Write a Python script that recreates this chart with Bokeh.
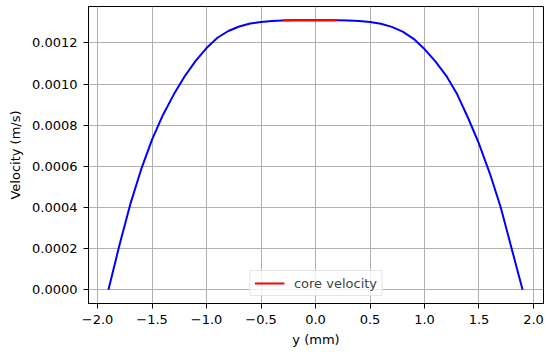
from bokeh.plotting import figure
from bokeh.models import FixedTicker, Range1d, Legend, LegendItem
from bokeh.embed import file_html
from bokeh.resources import INLINE

# Data
y_mm = [-1.9, -1.8, -1.7, -1.6, -1.5, -1.4, -1.3, -1.2, -1.1, -1.0,
        -0.9, -0.8, -0.7, -0.6, -0.5, -0.4, -0.3, -0.2, -0.1, 0.0,
        0.1, 0.2, 0.3, 0.4, 0.5, 0.6, 0.7, 0.8, 0.9, 1.0,
        1.1, 1.2, 1.3, 1.4, 1.5, 1.6, 1.7, 1.8, 1.9]
velocity = [0.0, 0.000215, 0.000415, 0.000585, 0.00073, 0.00085, 0.00095, 0.001038, 0.001113, 0.001175,
            0.001225, 0.001258, 0.00128, 0.001294, 0.001302, 0.001307, 0.001309, 0.00131, 0.00131, 0.00131,
            0.00131, 0.00131, 0.001309, 0.001307, 0.001302, 0.001293, 0.001278, 0.001255, 0.00122, 0.00117,
            0.00111, 0.00104, 0.00095, 0.000835, 0.00071, 0.000565, 0.0004, 0.0002, 0.0]

core_y = [-0.3, 0.2]
core_v = [0.00131, 0.00131]

x_ticks = [-2.0, -1.5, -1.0, -0.5, 0.0, 0.5, 1.0, 1.5, 2.0]
x_tick_labels = ["\u22122.0", "\u22121.5", "\u22121.0", "\u22120.5", "0.0", "0.5", "1.0", "1.5", "2.0"]
y_ticks = [0.0, 0.0002, 0.0004, 0.0006, 0.0008, 0.0010, 0.0012]
y_tick_labels = ["0.0000", "0.0002", "0.0004", "0.0006", "0.0008", "0.0010", "0.0012"]

FONT = "DejaVu Sans"
FS = "13px"

p = figure(width=550, height=352, output_backend="svg", toolbar_location=None,
           x_range=Range1d(-2.083, 2.092), y_range=Range1d(-0.0000666, 0.001377),
           min_border_left=88, min_border_right=7, min_border_top=6, min_border_bottom=49)

p.background_fill_color = "white"
p.border_fill_color = "white"
p.outline_line_color = "black"
p.outline_line_width = 1

p.line(y_mm, velocity, line_color="#0000ff", line_width=2)
red = p.line(core_y, core_v, line_color="#ff0000", line_width=2)

legend = Legend(items=[LegendItem(label="core velocity", renderers=[red])],
                location="bottom_center")
legend.margin = 7
legend.padding = 4
legend.glyph_width = 30
legend.glyph_height = 16
legend.label_standoff = 10
legend.label_text_font = FONT
legend.label_text_font_size = FS
legend.border_line_color = "#cccccc"
legend.background_fill_alpha = 0.8
p.add_layout(legend)

for ax in (p.xaxis, p.yaxis):
    ax.axis_line_color = "black"
    ax.major_tick_line_color = "black"
    ax.major_tick_in = 0
    ax.major_tick_out = 5
    ax.minor_tick_line_color = None
    ax.major_label_text_font = FONT
    ax.major_label_text_font_size = FS
    ax.major_label_text_color = "black"
    ax.axis_label_text_font = FONT
    ax.axis_label_text_font_size = FS
    ax.axis_label_text_font_style = "normal"
    ax.axis_label_text_color = "black"

p.xaxis.ticker = FixedTicker(ticks=x_ticks)
p.xaxis.major_label_overrides = dict(zip(x_ticks, x_tick_labels))
p.xaxis.axis_label = "y (mm)"
p.xaxis.major_label_standoff = 6
p.xaxis.axis_label_standoff = 5

p.yaxis.ticker = FixedTicker(ticks=y_ticks)
p.yaxis.major_label_overrides = dict(zip(y_ticks, y_tick_labels))
p.yaxis.axis_label = "Velocity (m/s)"
p.yaxis.major_label_standoff = 6
p.yaxis.axis_label_standoff = 6

for g in (p.xgrid, p.ygrid):
    g.grid_line_color = "#b0b0b0"
    g.grid_line_width = 1
p.xgrid.ticker = FixedTicker(ticks=x_ticks)
p.ygrid.ticker = FixedTicker(ticks=y_ticks)

open("out.html", "w").write(file_html(p, INLINE))
